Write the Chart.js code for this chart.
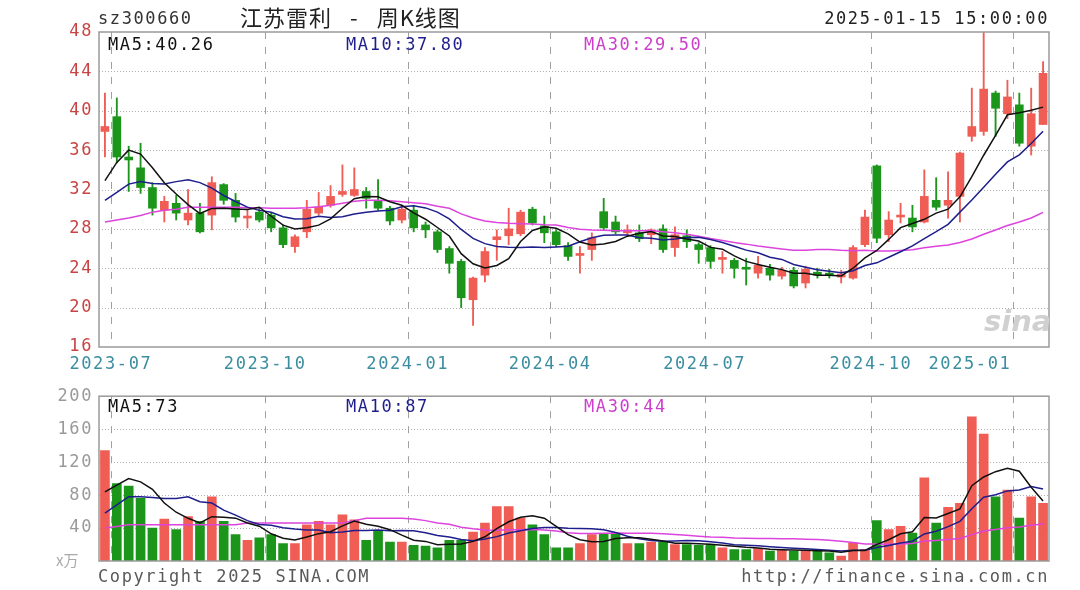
<!DOCTYPE html>
<html><head><meta charset="utf-8">
<script src="https://cdn.jsdelivr.net/npm/chart.js@4.4.1/dist/chart.umd.min.js"></script>
<style>
body{margin:0;background:#fff;width:1080px;height:590px;overflow:hidden;position:relative;font-family:'DejaVu Sans Mono',monospace}
.t{position:absolute;font-size:17px;letter-spacing:1.6px;white-space:pre;line-height:20px}
canvas{position:absolute;left:0}
</style></head><body>
<canvas id="pc" width="1080" height="380" style="top:0"></canvas>
<canvas id="vc" width="1080" height="210" style="top:380px"></canvas>
<div class="t" style="left:98px;top:8px;color:#333">sz300660</div>
<div class="t" style="left:240px;top:3px;line-height:26px;font-size:22px;letter-spacing:1px;color:#222;font-family:'Noto Sans CJK SC',sans-serif">江苏雷利<span style="margin:0 18px">-</span>周K线图</div>
<div class="t" style="right:31px;top:8px;color:#222">2025-01-15 15:00:00</div>
<div class="t" id="lp5" style="left:108px;top:34px;color:#111"></div>
<div class="t" id="lp10" style="left:346px;top:34px;color:#1e1e8c"></div>
<div class="t" id="lp30" style="left:584px;top:34px;color:#cc3fcc"></div>
<div class="t" id="lv5" style="left:108px;top:396px;color:#111"></div>
<div class="t" id="lv10" style="left:346px;top:396px;color:#1e1e8c"></div>
<div class="t" id="lv30" style="left:584px;top:396px;color:#cc3fcc"></div>
<div class="t" style="left:56px;top:550px;color:#aaa;font-size:15px;letter-spacing:0;font-family:'Noto Sans CJK SC',sans-serif">x万</div>
<div class="t" style="left:98px;top:566px;color:#5a5a5a">Copyright 2025 SINA.COM</div>
<div class="t" style="right:31px;top:566px;color:#5a5a5a">http://finance.sina.com.cn</div>
<div class="t" style="left:984px;top:304px;color:#d0d0d0;font-family:'DejaVu Sans',sans-serif;font-size:29px;font-weight:bold;font-style:italic;letter-spacing:0;line-height:34px">sina</div>
<script>
// ---- data (weekly K-line, 江苏雷利 sz300660) ----
const categories = ['2023-06-30','2023-07-07','2023-07-14','2023-07-21','2023-07-28','2023-08-04','2023-08-11','2023-08-18','2023-08-25','2023-09-01','2023-09-08','2023-09-15','2023-09-22','2023-09-28','2023-10-13','2023-10-20','2023-10-27','2023-11-03','2023-11-10','2023-11-17','2023-11-24','2023-12-01','2023-12-08','2023-12-15','2023-12-22','2023-12-29','2024-01-05','2024-01-12','2024-01-19','2024-01-26','2024-02-02','2024-02-08','2024-02-23','2024-03-01','2024-03-08','2024-03-15','2024-03-22','2024-03-29','2024-04-03','2024-04-12','2024-04-19','2024-04-26','2024-04-30','2024-05-10','2024-05-17','2024-05-24','2024-05-31','2024-06-07','2024-06-14','2024-06-21','2024-06-28','2024-07-05','2024-07-12','2024-07-19','2024-07-26','2024-08-02','2024-08-09','2024-08-16','2024-08-23','2024-08-30','2024-09-06','2024-09-13','2024-09-20','2024-09-27','2024-09-30','2024-10-11','2024-10-18','2024-10-25','2024-11-01','2024-11-08','2024-11-15','2024-11-22','2024-11-29','2024-12-06','2024-12-13','2024-12-20','2024-12-27','2025-01-03','2025-01-10','2025-01-15'];
const openP = [37.9,39.4,35.3,34.2,32.2,29.9,30.6,28.9,29.6,29.4,32.5,30.9,29.1,29.7,29.4,28.1,26.2,27.7,29.6,30.4,31.5,31.4,31.8,30.9,30.1,28.9,29.9,28.4,27.7,26.0,24.7,20.8,23.3,26.9,27.3,27.5,30.0,28.3,27.7,26.3,25.3,25.9,29.75,28.7,27.6,27.6,27.4,28.0,26.1,27.3,26.4,26.1,24.9,24.8,24.1,23.5,24.0,23.2,23.8,22.5,23.6,23.5,23.1,23.0,26.4,34.4,27.4,29.2,29.1,28.7,30.9,30.4,31.3,37.4,37.9,41.8,39.7,40.6,36.4,38.6];
const highP = [41.8,41.3,36.4,36.7,32.7,31.3,31.4,32.0,30.6,33.3,32.6,31.6,29.9,30.1,29.6,28.4,27.4,30.9,31.7,32.4,34.5,34.2,32.2,33.0,30.3,30.3,30.4,28.7,27.9,26.2,24.9,23.1,26.1,27.9,30.1,29.9,30.2,29.3,27.9,26.6,26.2,27.6,31.1,29.3,28.4,28.4,28.0,28.4,28.2,27.9,26.6,26.3,25.7,25.0,25.0,25.2,24.4,24.1,24.1,24.2,24.0,23.9,23.8,26.3,29.9,34.5,29.75,30.6,30.4,34.0,33.2,33.8,35.8,42.3,48.0,42.0,43.1,41.8,42.3,45.0];
const lowP = [35.3,34.7,31.8,31.6,29.4,28.7,28.9,28.4,27.6,27.9,30.5,28.7,28.1,28.7,27.7,26.1,25.6,27.1,29.4,30.2,31.3,31.3,30.1,29.9,28.4,28.6,27.7,27.1,25.6,23.5,20.0,18.2,22.6,24.8,26.4,27.3,28.4,26.6,26.2,24.8,23.5,24.8,27.9,27.5,27.2,26.7,26.5,25.6,25.2,26.1,24.5,24.0,23.5,23.0,22.3,23.0,22.8,22.9,22.0,22.0,23.0,23.0,22.5,22.9,26.2,26.6,26.7,28.6,27.7,28.6,29.9,29.1,28.7,36.9,37.5,37.4,39.2,36.4,35.5,38.6];
const closeP = [38.4,35.3,35.0,32.2,30.1,30.8,29.6,29.6,27.7,32.7,30.9,29.2,29.3,28.9,28.1,26.4,27.2,30.0,30.2,31.3,31.8,32.0,31.1,30.1,28.8,30.0,28.1,27.9,25.9,24.5,21.0,23.0,25.7,27.2,28.0,29.7,28.6,27.6,26.4,25.2,25.5,27.1,28.1,27.7,27.9,27.0,27.9,25.9,27.4,26.7,25.9,24.7,25.0,24.0,23.9,24.3,23.3,23.8,22.2,23.9,23.3,23.3,23.4,26.1,29.2,27.05,28.9,29.4,28.2,31.3,30.2,30.9,35.7,38.4,42.2,40.25,41.4,36.7,39.7,43.8];
const volume = [134,94,91,76,40,51,38,54,48,78,48,32,25,28,32,21,21,44,48,44,56,50,25,36,23,23,19,18,16,25,25,35,46,66,66,52,44,32,16,16,21,32,33,34,21,21,23,23,20,20,19,20,16,14,14,15,12,13,12,13,12,10,6,22,14,49,38,42,34,101,46,65,70,175,154,78,86,52,78,70];
// moving-average values before the window is complete
const ma5PriceLead = [32.9,34.75,36.0,35.6];
const ma10PriceLead = [30.9,31.7,32.55,32.8,32.6,32.55,32.8,33.0,32.7];
const ma30PriceLead = [28.7,28.9,29.1,29.35,29.7,29.9,30.0,30.2,30.2,30.2,30.2,30.2,30.15,30.15,30.1,30.1,30.1,30.15,30.25,30.4,30.6,30.8,30.9,30.9,30.85,30.75,30.65,30.55,30.3];
const ma5VolLead = [84,92,100,96];
const ma10VolLead = [58,68,78,78,77,76,76,78,72];
const ma30VolLead = [40,42,44,44,44,44,44,44,44,44,44,44,46,46,46,46,46,46,46,46,46,49,52,52,52,52,51,49,46];
const priceLegend = ['MA5:40.26','MA10:37.80','MA30:29.50'];
const volLegend = ['MA5:73','MA10:87','MA30:44'];
const priceTicks = [16,20,24,28,32,36,40,44,48];
const volTicks = [0,40,80,120,160,200];
const xTickLabels = ['2023-07','2023-10','2024-01','2024-04','2024-07','2024-10','2025-01'];

// ---- styles ----
const UP = '#ef5d55', DOWN = '#1b961b';
const C5 = '#111111', C10 = '#1e1e8c', C30 = '#dd44dd';
const FONT = "'DejaVu Sans Mono', monospace";

['lp5','lp10','lp30'].forEach((id,i)=>document.getElementById(id).textContent = priceLegend[i]);
['lv5','lv10','lv30'].forEach((id,i)=>document.getElementById(id).textContent = volLegend[i]);

function ma(src, n, lead) {
  return src.map((_, i) => i < n - 1 ? lead[i] :
    +(src.slice(i - n + 1, i + 1).reduce((a, b) => a + b, 0) / n).toFixed(2));
}
const candleColor = closeP.map((c, i) => c >= openP[i] ? UP : DOWN);
const boundaryIdx = xTickLabels.map(l => categories.findIndex(d => d.startsWith(l)));

const kgrid = {
  id: 'kgrid',
  beforeDraw(chart) {
    try { chart.ctx.letterSpacing = '1.6px'; } catch (e) {}
  },
  beforeDatasetsDraw(chart, args, opts) {
    const {ctx, chartArea: a, scales: {x, y}} = chart;
    ctx.save();
    ctx.lineWidth = 1;
    ctx.strokeStyle = '#b0b0b0';
    ctx.setLineDash([1, 2]);
    opts.hLines.forEach(v => {
      const py = Math.round(y.getPixelForValue(v)) + 0.5;
      ctx.beginPath(); ctx.moveTo(a.left, py); ctx.lineTo(a.right, py); ctx.stroke();
    });
    ctx.setLineDash([7, 8]);
    ctx.strokeStyle = '#a0a0a0';
    boundaryIdx.forEach(i => {
      const px = Math.round((x.getPixelForValue(i - 1) + x.getPixelForValue(i)) / 2) + 0.5;
      ctx.beginPath(); ctx.moveTo(px, a.top); ctx.lineTo(px, a.bottom); ctx.stroke();
    });
    ctx.restore();
  },
  afterDraw(chart, args, opts) {
    const {ctx, chartArea: a, scales: {x}} = chart;
    ctx.save();
    ctx.strokeStyle = '#9a9a9a';
    ctx.lineWidth = 1.5;
    ctx.strokeRect(a.left, a.top, a.right - a.left, a.bottom - a.top);
    if (opts.xLabels) {
      ctx.font = '17px ' + FONT;
      try { ctx.letterSpacing = '1.6px'; } catch (e) {}
      ctx.fillStyle = '#3a8ea0';
      ctx.textBaseline = 'middle';
      boundaryIdx.forEach((i, k) => {
        const px = (x.getPixelForValue(i - 1) + x.getPixelForValue(i)) / 2;
        const w = ctx.measureText(xTickLabels[k]).width;
        if (px + w / 2 > a.right) { ctx.textAlign = 'right'; ctx.fillText(xTickLabels[k], px - 2, a.bottom + 18); }
        else { ctx.textAlign = 'center'; ctx.fillText(xTickLabels[k], px, a.bottom + 18); }
      });
    }
    ctx.restore();
  }
};

const lineDs = (data, color) => ({type: 'line', data, borderColor: color, borderWidth: 1.5,
  pointRadius: 0, tension: 0, fill: false, order: 0});

new Chart(document.getElementById('pc'), {
  type: 'bar',
  data: {
    labels: categories,
    datasets: [
      lineDs(ma(closeP, 5, ma5PriceLead), C5),
      lineDs(ma(closeP, 10, ma10PriceLead), C10),
      lineDs(ma(closeP, 30, ma30PriceLead), C30),
      {data: openP.map((o, i) => [o, closeP[i]]), backgroundColor: candleColor, barThickness: 8,
       grouped: false, minBarLength: 2, borderWidth: 0, order: 1},
      {data: lowP.map((l, i) => [l, highP[i]]), backgroundColor: candleColor, barThickness: 1.2,
       grouped: false, borderWidth: 0, order: 2}
    ]
  },
  options: {
    responsive: false, animation: false, devicePixelRatio: 1,
    layout: {padding: {left: 0, right: 31, top: 32, bottom: 33}},
    plugins: {legend: {display: false}, tooltip: {enabled: false}, kgrid: {hLines: priceTicks.slice(1, -1), xLabels: true}},
    scales: {
      x: {display: false, offset: true},
      y: {min: priceTicks[0], max: priceTicks[priceTicks.length - 1],
          afterBuildTicks: s => { s.ticks = priceTicks.map(v => ({value: v})); },
          afterFit: s => { s.width = 99; },
          grid: {display: false, drawTicks: false}, border: {display: false},
          ticks: {color: '#c84444', padding: 6, font: {family: FONT, size: 17}}}
    }
  },
  plugins: [kgrid]
});

new Chart(document.getElementById('vc'), {
  type: 'bar',
  data: {
    labels: categories,
    datasets: [
      lineDs(ma(volume, 5, ma5VolLead), C5),
      lineDs(ma(volume, 10, ma10VolLead), C10),
      lineDs(ma(volume, 30, ma30VolLead), C30),
      {data: volume, backgroundColor: candleColor, barThickness: 9, borderWidth: 0, order: 1}
    ]
  },
  options: {
    responsive: false, animation: false, devicePixelRatio: 1,
    layout: {padding: {left: 0, right: 31, top: 15, bottom: 29}},
    plugins: {legend: {display: false}, tooltip: {enabled: false}, kgrid: {hLines: volTicks.slice(1, -1), xLabels: false}},
    scales: {
      x: {display: false, offset: true},
      y: {min: volTicks[0], max: volTicks[volTicks.length - 1],
          afterBuildTicks: s => { s.ticks = volTicks.map(v => ({value: v})); },
          afterFit: s => { s.width = 99; },
          grid: {display: false, drawTicks: false}, border: {display: false},
          ticks: {color: '#9a9a9a', padding: 6, font: {family: FONT, size: 17},
                  callback: v => v === 0 ? '' : String(v)}}
    }
  },
  plugins: [kgrid]
});
</script>
</body></html>
